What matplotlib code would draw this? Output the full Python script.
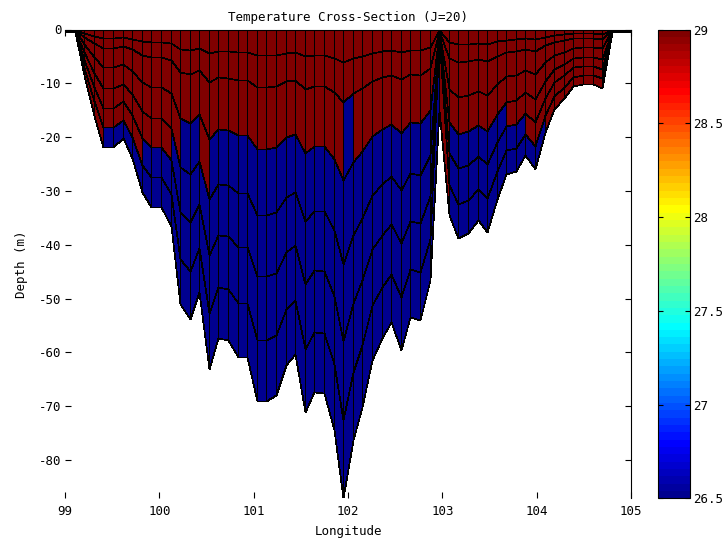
import numpy as np
import matplotlib
matplotlib.use("Agg")
import matplotlib.pyplot as plt
from matplotlib.colors import ListedColormap

plt.rcParams['axes.unicode_minus'] = False
plt.rcParams['font.family'] = ['DejaVu Sans Mono', 'DejaVu Sans']

# ---------------- data ----------------
lon_nodes = [99.000, 99.102, 99.203, 99.305, 99.407, 99.508, 99.610, 99.712, 99.814, 99.915,
             100.017, 100.119, 100.220, 100.322, 100.424, 100.525, 100.627, 100.729, 100.831, 100.932,
             101.034, 101.136, 101.237, 101.339, 101.441, 101.542, 101.644, 101.746, 101.847, 101.949,
             102.051, 102.153, 102.254, 102.356, 102.458, 102.559, 102.661, 102.763, 102.864, 102.966,
             103.068, 103.169, 103.271, 103.373, 103.475, 103.576, 103.678, 103.780, 103.881, 103.983,
             104.085, 104.186, 104.288, 104.390, 104.492, 104.593, 104.695, 104.797, 104.898, 105.000]

bottom_depth = [0.5, 0.5, 8.5, 16.0, 21.8, 21.8, 20.1, 23.9, 30.2, 32.9,
                32.9, 36.5, 51.0, 53.7, 48.7, 63.0, 57.4, 57.7, 60.9, 60.9,
                69.0, 69.0, 67.9, 62.3, 60.2, 71.0, 67.3, 67.5, 74.5, 87.0,
                76.3, 70.1, 61.4, 57.3, 54.3, 59.6, 53.4, 54.0, 46.6, 15.0,
                34.5, 38.8, 37.9, 35.4, 37.6, 31.4, 26.9, 26.3, 23.3, 25.9,
                19.0, 14.8, 12.7, 10.5, 10.2, 10.2, 10.9, 0.5, 0.5, 0.5]

sigma_levels = [0.0, 0.07, 0.155, 0.322, 0.5, 0.665, 0.835, 1.0]

# node near 103E whose upper levels collapse to the surface
notch_node = 39
notch_levels = [0.0, 0.15, 0.3, 0.5, 0.65, 0.8, 1.0, 15.0]

# number of warm (top) layers in each column between nodes
warm_layers = [7, 7, 7, 7, 6, 6, 6, 6, 5, 5,
               5, 4, 3, 3, 4, 3, 3, 3, 3, 3,
               3, 3, 3, 3, 3, 3, 3, 3, 3, 2,
               3, 3, 3, 3, 3, 3, 3, 3, 3, 7,
               4, 4, 4, 4, 4, 4, 5, 5, 6, 6,
               7, 7, 7, 7, 7, 7, 7, 7, 7]
warm_temp = 29.3
cold_temp = 26.2

clim = (26.5, 29.0)
cbar_ticks = [26.5, 27.0, 27.5, 28.0, 28.5, 29.0]
cbar_labels = ['26.5', '27', '27.5', '28', '28.5', '29']
x_ticks = [99, 100, 101, 102, 103, 104, 105]
y_ticks = [-80, -70, -60, -50, -40, -30, -20, -10, 0]

# ---------------- MATLAB-like jet(64) ----------------
def matlab_jet(n=64):
    m = int(np.ceil(n / 4))
    u = np.concatenate([np.arange(1, m + 1) / m, np.ones(m - 1), np.arange(m, 0, -1) / m])
    g = int(np.ceil(m / 2)) - (1 if n % 4 == 1 else 0) + np.arange(1, len(u) + 1)
    r = g + m
    b = g - m
    J = np.zeros((n, 3))
    for idxs, ch in ((r, 0), (g, 1), (b, 2)):
        for i, val in zip(idxs, u):
            if 1 <= i <= n:
                J[i - 1, ch] = val
    return ListedColormap(J)

cmap = matlab_jet(64)

# ---------------- grid ----------------
lon = np.array(lon_nodes)
h = np.array(bottom_depth)
sig = np.array(sigma_levels)
Z = -np.outer(sig, h)
Z[:, notch_node] = -np.array(notch_levels)
X = np.tile(lon, (len(sig), 1))
layer_idx = np.arange(len(sig) - 1)[:, None]
C = np.where(layer_idx < np.array(warm_layers)[None, :], warm_temp, cold_temp)

# ---------------- figure ----------------
W, H = 726, 545
fig = plt.figure(figsize=(W / 100, H / 100), dpi=100)
ax_l, ax_r, ax_t, ax_b = 65, 631, 29.5, 498.3
ax = fig.add_axes([ax_l / W, 1 - ax_b / H, (ax_r - ax_l) / W, (ax_b - ax_t) / H])

mesh = ax.pcolormesh(X, Z, C, cmap=cmap, vmin=clim[0], vmax=clim[1],
                     edgecolors='k', linewidth=0.5, shading='flat', antialiased=False)

ax.set_xlim(99, 105)
ax.set_ylim(-87.1, 0)
ax.set_xticks(x_ticks)
ax.set_yticks(y_ticks)
ax.set_xticklabels([str(v) for v in x_ticks])
ax.set_yticklabels([str(v) for v in y_ticks])
ax.set_axisbelow(True)
ax.spines['left'].set_visible(False)
ax.spines['bottom'].set_visible(False)
ax.spines['top'].set_linewidth(0.8)
ax.spines['right'].set_linewidth(0.8)
ax.tick_params(axis='both', direction='in', length=4, width=0.8, labelsize=9,
               top=True, right=True, bottom=True, left=True)
ax.tick_params(axis='x', pad=5)
ax.tick_params(axis='y', pad=2.5)

ax.set_xlabel('Longitude', fontsize=9)
ax.xaxis.set_label_coords(0.5, -(532 - ax_b) / (ax_b - ax_t))
ax.xaxis.label.set_va('center')
ax.set_ylabel('Depth (m)', fontsize=9)
ax.yaxis.set_label_coords(-(ax_l - 22) / (ax_r - ax_l), 0.5)
ax.yaxis.label.set_va('center')
ax.text(0.5, 1 + (ax_t - 17) / (ax_b - ax_t), 'Temperature Cross-Section (J=20)',
        transform=ax.transAxes, ha='center', va='center', fontsize=9)

cax = fig.add_axes([657.5 / W, 1 - ax_b / H, 32.5 / W, (ax_b - ax_t) / H])
cb = fig.colorbar(mesh, cax=cax, ticks=cbar_ticks)
cb.ax.set_yticklabels(cbar_labels)
cb.outline.set_linewidth(0.8)
cax.tick_params(direction='in', length=3.5, width=0.8, left=True, right=True,
                labelsize=9, pad=2)

fig.savefig('out.png', dpi=100)
